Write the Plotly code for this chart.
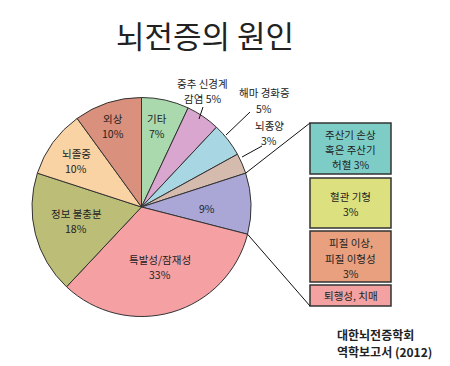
import plotly.graph_objects as go
import numpy as np

# ---- data ----
labels = ["기타", "중추 신경계 감염", "해마 경화증", "뇌종양", "기타 원인(9%)",
          "특발성/잠재성", "정보 불충분", "뇌졸중", "외상"]
values = [7, 5, 5, 3, 9, 33, 18, 10, 10]
slice_colors = ["#a9d9ac", "#d9a6cf", "#a8d6e2", "#d5bbae", "#aaa6d6",
                "#f5a1a4", "#bcbe78", "#f9d3a3", "#d9907d"]

box_lines = [["주산기 손상", "혹은 주산기", "허혈 3%"], ["혈관 기형", "3%"],
             ["피질 이상,", "피질 이형성", "3%"], ["퇴행성, 치매"]]
box_colors = ["#7dcdc6", "#dde07f", "#e8a07f", "#f3a1a1"]

title_text = "뇌전증의 원인"
source_lines = ["대한뇌전증학회", "역학보고서 (2012)"]

# ---- layout helpers (pixels) ----
W, H = 450, 366
CX, CY, R = 141.5, 207.0, 109.5
FONT = "Noto Sans CJK KR"

def px(x):
    return x / W

def py(y):
    return 1 - y / H

fig = go.Figure()
fig.add_trace(go.Pie(
    labels=labels, values=values, sort=False, direction="clockwise",
    rotation=0, textinfo="none", hoverinfo="none", showlegend=False,
    marker=dict(colors=slice_colors, line=dict(color="#333333", width=1)),
    domain=dict(x=[px(CX - R), px(CX + R)], y=[py(CY + R), py(CY - R)]),
))

annotations = []
def txt(x, y, t, size=10.5, bold=False, xanchor="center"):
    annotations.append(dict(
        x=px(x), y=py(y), xref="paper", yref="paper", text=t, showarrow=False,
        xanchor=xanchor, yanchor="middle", align="center" if xanchor == "center" else "left",
        font=dict(family=FONT, size=size, color="#222222",
                  weight="bold" if bold else "normal")))

txt(205, 34, title_text, size=31)

# slice labels: name line(s) then value; positions as (x, first-line y, line gap)
label_names = [["기타"], ["중추 신경계", "감염"], ["해마 경화증"], ["뇌종양"], [],
               ["특발성/잠재성"], ["정보 불충분"], ["뇌졸중"], ["외상"]]
label_pos = [(157, 118, 15), (202, 83, 15), (264, 93, 15), (269, 125, 15), (207, 208, 0),
             (160, 259, 15), (76, 213, 15), (76, 153, 15), (113, 118, 15)]
for (x, y, gap), names, v in zip(label_pos, label_names, values):
    if len(names) == 2:
        lines = [names[0], f"{names[1]} {v}%"]
    else:
        lines = names + [f"{v}%"]
    for i, ln in enumerate(lines):
        txt(x, y + i * gap, ln)

shapes = []
# leader lines for small outside labels
leaders = [((203, 107), (199, 119)), ((250, 112), (226, 135)), ((262, 146), (242, 157))]
for (x0, y0), (x1, y1) in leaders:
    shapes.append(dict(type="line", xref="paper", yref="paper",
                       x0=px(x0), y0=py(y0), x1=px(x1), y1=py(y1),
                       line=dict(color="#111111", width=1)))

# boxes breakdown
box_x0, box_x1 = 310, 391
box_y = [(123, 174), (178, 228), (231, 282), (285, 306)]
box_line_y = [[134, 149, 164], [196, 211], [243, 258, 273], [295]]
for (y0, y1), lines, lys, c in zip(box_y, box_lines, box_line_y, box_colors):
    shapes.append(dict(type="rect", xref="paper", yref="paper",
                       x0=px(box_x0), x1=px(box_x1), y0=py(y1), y1=py(y0),
                       fillcolor=c, line=dict(color="#333333", width=1.5)))
    for ln, ly in zip(lines, lys):
        txt((box_x0 + box_x1) / 2, ly, ln)

# connector lines from the 9% slice edges to the boxes
cum = np.cumsum([0] + values) / sum(values) * 360
a_start, a_end = np.radians(cum[4]), np.radians(cum[5])
for ang, (bx, by) in [(a_start, (box_x0, box_y[0][0])), (a_end, (box_x0, box_y[-1][1]))]:
    ex, ey = CX + R * np.sin(ang), CY - R * np.cos(ang)
    shapes.append(dict(type="line", xref="paper", yref="paper",
                       x0=px(ex), y0=py(ey), x1=px(bx), y1=py(by),
                       line=dict(color="#111111", width=1)))

for ln, ly in zip(source_lines, [334, 351]):
    txt(335, ly, ln, size=12, bold=True, xanchor="left")

fig.update_layout(width=W, height=H, margin=dict(l=0, r=0, t=0, b=0),
                  paper_bgcolor="white", plot_bgcolor="white",
                  annotations=annotations, shapes=shapes)
fig.write_html("out.html")
